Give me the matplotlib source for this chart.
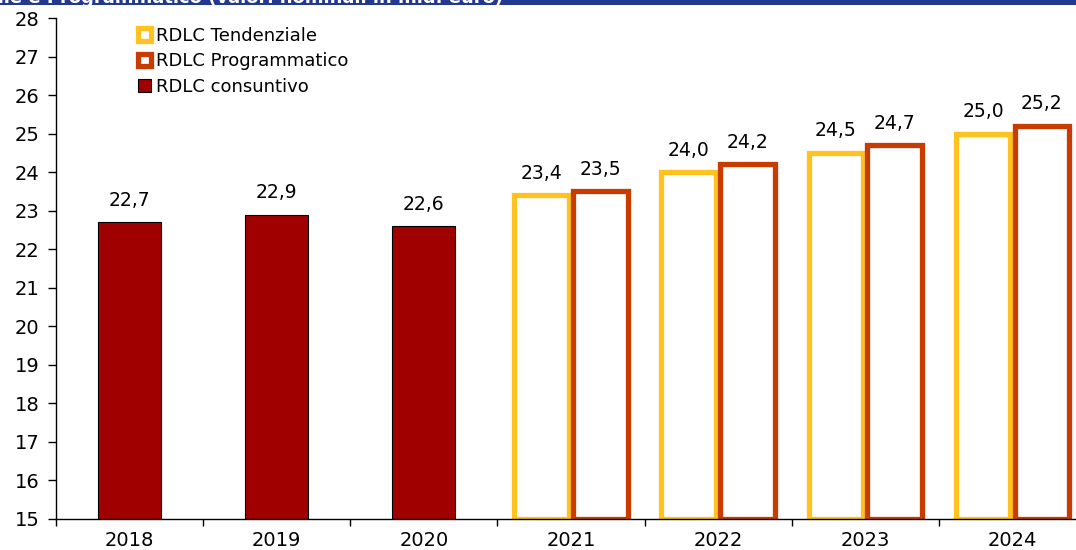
import numpy as np
import matplotlib.pyplot as plt
from matplotlib.patches import Rectangle
from matplotlib.transforms import Bbox, TransformedBbox

plt.rcParams['font.family'] = ['DejaVu Sans']

years = ['2018', '2019', '2020', '2021', '2022', '2023', '2024']
consuntivo = [22.7, 22.9, 22.6]
tendenziale = [23.4, 24.0, 24.5, 25.0]
programmatico = [23.5, 24.2, 24.7, 25.2]

c_cons = '#A00000'
c_tend = '#FFC21F'
c_prog = '#C83C00'
base = 15

fig = plt.figure(figsize=(10.76, 5.5), dpi=100)
ax = fig.add_axes([56 / 1076, 1 - 519 / 550, 1030 / 1076, (519 - 18) / 550])

# blue title band, cut off at the top of the image
band = Rectangle((0, 1 - 5 / 550), 1, 5 / 550, transform=fig.transFigure,
                 facecolor='#22398F', edgecolor='none', zorder=5)
fig.patches.append(band)
t = fig.text(0.468, 1 - 3 / 550, 'Reddito disponibile lordo Tendenziale e Programmatico (valori nominali in mld. euro)',
             ha='right', va='baseline', color='white', fontsize=13, fontweight='bold', zorder=6)
t.set_clip_box(TransformedBbox(Bbox([[0, 1 - 5 / 550], [1, 1]]), fig.transFigure))
t.set_clip_on(True)

x = np.arange(len(years))
x_cons = x[:3]
x_fut = x[3:]

b_cons = ax.bar(x_cons, np.array(consuntivo) - base, bottom=base, width=0.43,
                color=c_cons, edgecolor='black', linewidth=0.8, label='RDLC consuntivo')
b_tend = ax.bar(x_fut - 0.2, np.array(tendenziale) - base, bottom=base, width=0.37,
                facecolor='white', edgecolor=c_tend, linewidth=3.8, label='RDLC Tendenziale')
b_prog = ax.bar(x_fut + 0.2, np.array(programmatico) - base, bottom=base, width=0.37,
                facecolor='white', edgecolor=c_prog, linewidth=3.8, label='RDLC Programmatico')

for xs, vals in [(x_cons, consuntivo), (x_fut - 0.2, tendenziale), (x_fut + 0.2, programmatico)]:
    for xi, v in zip(xs, vals):
        ax.annotate(f'{v:.1f}'.replace('.', ','), (xi, v), xytext=(0, 9),
                    textcoords='offset points', ha='center', va='bottom', fontsize=13.5)

ax.set_ylim(15, 28)
ax.set_yticks(range(15, 29))
ax.set_xlim(-0.5, 6.5)
ax.set_xticks(np.arange(-0.5, 7, 1))
ax.set_xticklabels([])
ax.set_xticks(x, minor=True)
ax.set_xticklabels(years, minor=True)
ax.tick_params(axis='x', which='major', length=5, width=1, direction='out')
ax.tick_params(axis='x', which='minor', length=0, pad=9, labelsize=14)
ax.tick_params(axis='y', length=6, width=1, pad=6, labelsize=14)

for s in ['top', 'right']:
    ax.spines[s].set_visible(False)
for s in ['left', 'bottom']:
    ax.spines[s].set_linewidth(1)

ax.legend(handles=[b_tend, b_prog, b_cons], loc='upper left', bbox_to_anchor=(0.073, 0.997),
          frameon=False, fontsize=13, handlelength=0.7, handleheight=0.7,
          handletextpad=0.25, labelspacing=0.42, borderaxespad=0)

fig.savefig('out.png', dpi=100)
